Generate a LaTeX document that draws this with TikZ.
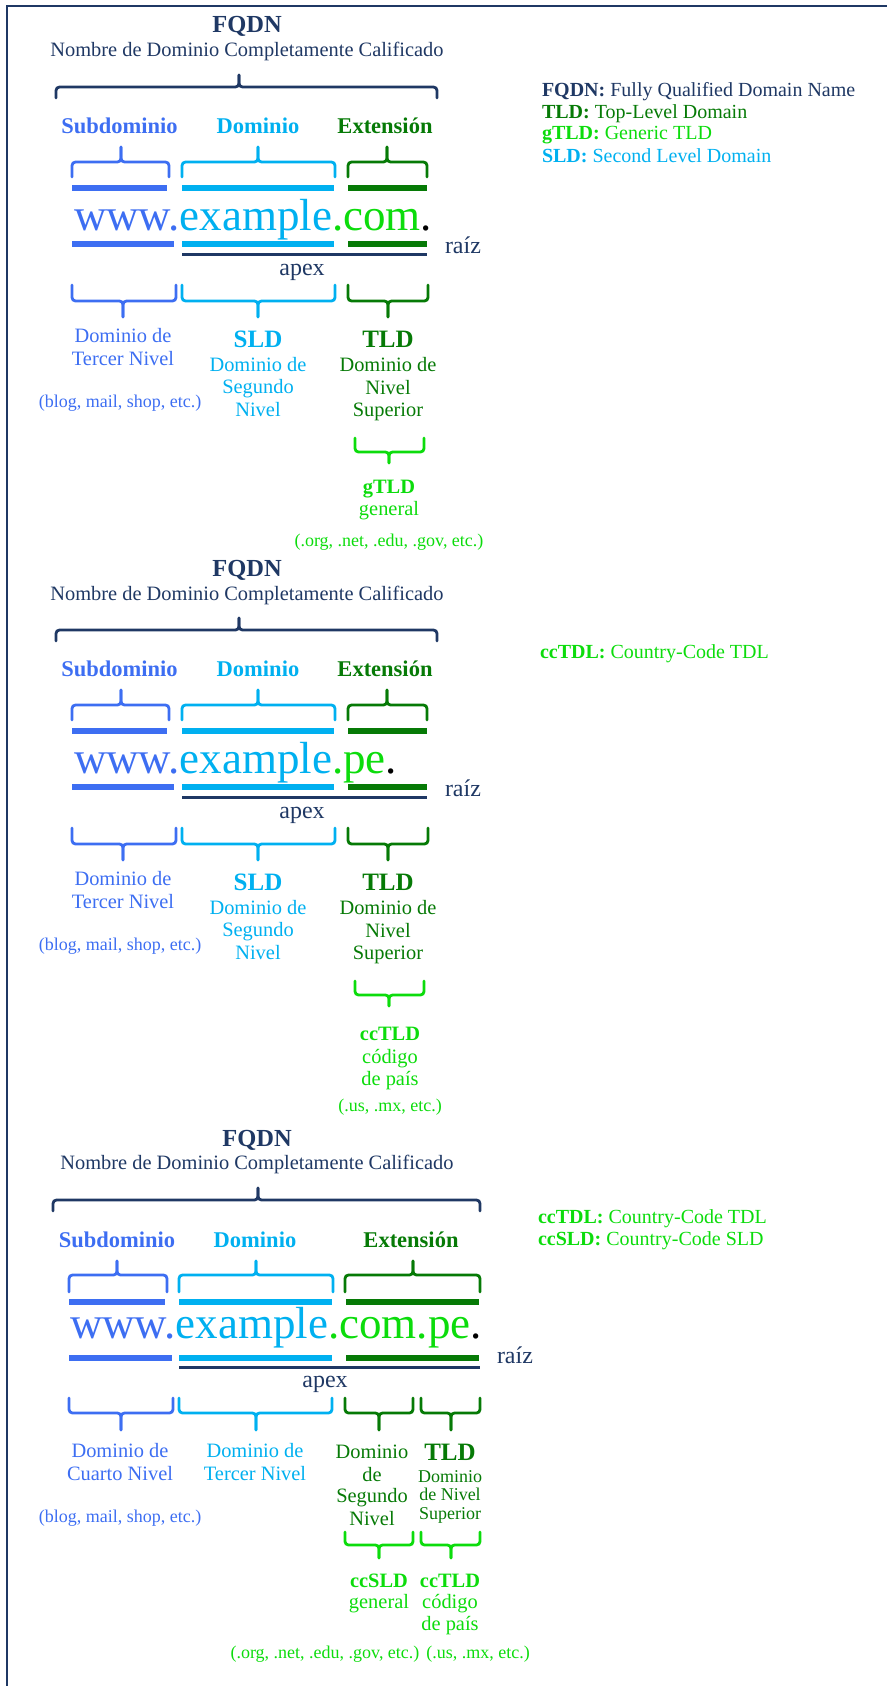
\documentclass[tikz,border=0pt]{standalone}
\usepackage{fontspec}
\setmainfont{Liberation Serif}
\definecolor{cNavy}{HTML}{1F3864}
\definecolor{cSub}{HTML}{3D6EF2}
\definecolor{cDom}{HTML}{00B0F0}
\definecolor{cExt}{HTML}{067A06}
\definecolor{cLime}{HTML}{0CDC0C}

% curly bracket: colour, left x, right x, tip x, end y, bar y, tip y
\newcommand\dbrk[7]{%
  \draw[brk,#1] (#2,#5) -- (#2,#6) -- (#4,#6) -- (#4,#7);
  \draw[brk,#1] (#3,#5) -- (#3,#6) -- (#4,#6) -- (#4,#7);}
% thick underline bar: colour, left x, right x, centre y
\newcommand\thickbar[4]{%
  \fill[#1] (#2,#4-3.3) rectangle (#3,#4+3.3);}

\tikzset{
  every node/.style={inner sep=0pt, outer sep=0pt},
  brk/.style={line width=2.8pt, rounded corners=3.5pt, line cap=round},
  apexline/.style={line width=3pt, cNavy},
  ttl/.style={anchor=base, text=cNavy, font=\bfseries\fontsize{24.5}{28}\selectfont},
  subttl/.style={anchor=base, text=cNavy, font=\fontsize{20.4}{24}\selectfont},
  hdr/.style={anchor=base, font=\bfseries\fontsize{22.5}{26}\selectfont},
  url/.style={anchor=base west, font=\fontsize{45}{50}\selectfont},
  lab/.style={anchor=base, font=\fontsize{20.4}{24}\selectfont},
  labbig/.style={anchor=base, font=\bfseries\fontsize{25}{28}\selectfont},
  labbf/.style={anchor=base, font=\bfseries\fontsize{20.4}{24}\selectfont},
  sml/.style={anchor=base, font=\fontsize{18}{20}\selectfont},
  leg/.style={anchor=base west, font=\fontsize{20}{22}\selectfont},
  marker/.style={text=cNavy, font=\fontsize{24}{28}\selectfont},
}

\begin{document}
\begin{tikzpicture}[x=1pt, y=-1pt]
\useasboundingbox (0,0) rectangle (887,1686);
% frame
\coordinate (fbl) at (7,1686);
\coordinate (ftl) at (7,6);
\coordinate (ftr) at (887,6);
\draw[cNavy, line width=2.6pt] (fbl) -- (ftl) -- (ftr);

%================ first example: www.example.com.
\node[ttl] (a-fqdn) at (247,33) {FQDN};
\node[subttl] (a-nombre) at (247,57) {Nombre de Dominio Completamente Calificado};
\dbrk{cNavy}{56}{437}{239}{98}{87}{75}
\node[hdr, text=cSub] (a-hsub) at (119.5,133) {Subdominio};
\node[hdr, text=cDom] (a-hdom) at (258,133) {Dominio};
\node[hdr, text=cExt] (a-hext) at (385,133) {Extensión};
\dbrk{cSub}{72}{169}{121}{177}{162}{147}
\dbrk{cDom}{182}{335}{258}{177}{162}{147}
\dbrk{cExt}{348}{427}{387}{177}{162}{147}
\thickbar{cSub}{72}{167}{188}
\thickbar{cDom}{182}{334}{188}
\thickbar{cExt}{348}{427}{188}
\node[url] (a-url) at (74,230) {\textcolor{cSub}{www.}\textcolor{cDom}{example}\textcolor{cLime}{.com}\textcolor{black}{.}};
\thickbar{cSub}{72}{174}{244}
\thickbar{cDom}{182}{334}{244}
\thickbar{cExt}{348}{427}{244}
\draw[apexline] (182,254) -- (427,254);
\node[marker, anchor=base west] (a-raiz) at (445,253) {raíz};
\node[marker, anchor=base] (a-apex) at (302,275) {apex};
\dbrk{cSub}{72}{176}{123}{285}{301}{317}
\dbrk{cDom}{182}{335}{258}{285}{301}{317}
\dbrk{cExt}{348}{428}{388}{285}{301}{317}
\node[lab, text=cSub] (a-l1a) at (123,342) {Dominio de};
\node[lab, text=cSub] (a-l1b) at (123,365) {Tercer Nivel};
\node[sml, text=cSub] (a-l1c) at (120,407) {(blog, mail, shop, etc.)};
\node[labbig, text=cDom] (a-l2a) at (258,347) {SLD};
\node[lab, text=cDom] (a-l2b) at (258,371) {Dominio de};
\node[lab, text=cDom] (a-l2c) at (258,393) {Segundo};
\node[lab, text=cDom] (a-l2d) at (258,416) {Nivel};
\node[labbig, text=cExt] (a-l3a) at (388,347) {TLD};
\node[lab, text=cExt] (a-l3b) at (388,371) {Dominio de};
\node[lab, text=cExt] (a-l3c) at (388,394) {Nivel};
\node[lab, text=cExt] (a-l3d) at (388,416) {Superior};
\dbrk{cLime}{355}{424}{389}{438}{452}{463}
\node[labbf, text=cLime] (a-g1) at (389,493) {gTLD};
\node[lab, text=cLime] (a-g2) at (389,515) {general};
\node[sml, text=cLime] (a-g3) at (389,546) {(.org, .net, .edu, .gov, etc.)};
% legend
\node[leg, text=cNavy] (a-k1) at (542,96) {\textbf{FQDN:} Fully Qualified Domain Name};
\node[leg, text=cExt] (a-k2) at (542,118) {\textbf{TLD:} Top-Level Domain};
\node[leg, text=cLime] (a-k3) at (542,139) {\textbf{gTLD:} Generic TLD};
\node[leg, text=cDom] (a-k4) at (542,162) {\textbf{SLD:} Second Level Domain};

%================ second example: www.example.pe.
\begin{scope}[yshift=-543pt]
\node[ttl] (b-fqdn) at (247,33) {FQDN};
\node[subttl] (b-nombre) at (247,57) {Nombre de Dominio Completamente Calificado};
\dbrk{cNavy}{56}{437}{239}{98}{87}{75}
\node[hdr, text=cSub] (b-hsub) at (119.5,133) {Subdominio};
\node[hdr, text=cDom] (b-hdom) at (258,133) {Dominio};
\node[hdr, text=cExt] (b-hext) at (385,133) {Extensión};
\dbrk{cSub}{72}{169}{121}{177}{162}{147}
\dbrk{cDom}{182}{335}{258}{177}{162}{147}
\dbrk{cExt}{348}{427}{387}{177}{162}{147}
\thickbar{cSub}{72}{167}{188}
\thickbar{cDom}{182}{334}{188}
\thickbar{cExt}{348}{427}{188}
\node[url] (b-url) at (74,230) {\textcolor{cSub}{www.}\textcolor{cDom}{example}\textcolor{cLime}{.pe}\textcolor{black}{.}};
\thickbar{cSub}{72}{174}{244}
\thickbar{cDom}{182}{334}{244}
\thickbar{cExt}{348}{427}{244}
\draw[apexline] (182,254) -- (427,254);
\node[marker, anchor=base west] (b-raiz) at (445,253) {raíz};
\node[marker, anchor=base] (b-apex) at (302,275) {apex};
\dbrk{cSub}{72}{176}{123}{285}{301}{317}
\dbrk{cDom}{182}{335}{258}{285}{301}{317}
\dbrk{cExt}{348}{428}{388}{285}{301}{317}
\node[lab, text=cSub] (b-l1a) at (123,342) {Dominio de};
\node[lab, text=cSub] (b-l1b) at (123,365) {Tercer Nivel};
\node[sml, text=cSub] (b-l1c) at (120,407) {(blog, mail, shop, etc.)};
\node[labbig, text=cDom] (b-l2a) at (258,347) {SLD};
\node[lab, text=cDom] (b-l2b) at (258,371) {Dominio de};
\node[lab, text=cDom] (b-l2c) at (258,393) {Segundo};
\node[lab, text=cDom] (b-l2d) at (258,416) {Nivel};
\node[labbig, text=cExt] (b-l3a) at (388,347) {TLD};
\node[lab, text=cExt] (b-l3b) at (388,371) {Dominio de};
\node[lab, text=cExt] (b-l3c) at (388,394) {Nivel};
\node[lab, text=cExt] (b-l3d) at (388,416) {Superior};
\dbrk{cLime}{355}{424}{389}{438}{452}{463}
\node[labbf, text=cLime] (b-g1) at (390,497) {ccTLD};
\node[lab, text=cLime] (b-g2) at (390,520) {código};
\node[lab, text=cLime] (b-g3) at (390,542) {de país};
\node[sml, text=cLime] (b-g4) at (390,568) {(.us, .mx, etc.)};
\node[leg, text=cLime] (b-k1) at (540,115) {\textbf{ccTDL:} Country-Code TDL};
\end{scope}

%================ third example: www.example.com.pe.
\node[ttl] (c-fqdn) at (257,1146) {FQDN};
\node[subttl] (c-nombre) at (257,1169) {Nombre de Dominio Completamente Calificado};
\dbrk{cNavy}{53}{480}{258}{1211}{1200}{1188}
\node[hdr, text=cSub] (c-hsub) at (117,1247) {Subdominio};
\node[hdr, text=cDom] (c-hdom) at (255,1247) {Dominio};
\node[hdr, text=cExt] (c-hext) at (411,1247) {Extensión};
\dbrk{cSub}{69}{167}{117}{1292}{1275}{1261}
\dbrk{cDom}{179}{333}{256}{1292}{1275}{1261}
\dbrk{cExt}{345}{480}{413}{1292}{1275}{1261}
\thickbar{cSub}{69}{165}{1302}
\thickbar{cDom}{179}{332}{1302}
\thickbar{cExt}{346}{479}{1302}
\node[url] (c-url) at (70,1338) {\textcolor{cSub}{www.}\textcolor{cDom}{example}\textcolor{cLime}{.com.pe}\textcolor{black}{.}};
\thickbar{cSub}{69}{172}{1358}
\thickbar{cDom}{179}{332}{1358}
\thickbar{cExt}{346}{479}{1358}
\draw[apexline] (179,1367) -- (480,1367);
\node[marker, anchor=base west] (c-raiz) at (497,1363) {raíz};
\node[marker, anchor=base] (c-apex) at (325,1387) {apex};
\dbrk{cSub}{69}{173}{121}{1398}{1413}{1430}
\dbrk{cDom}{179}{332}{256}{1398}{1413}{1430}
\dbrk{cExt}{345}{413}{379}{1398}{1413}{1430}
\dbrk{cExt}{421}{480}{451}{1398}{1413}{1430}
\node[lab, text=cSub] (c-l1a) at (120,1457) {Dominio de};
\node[lab, text=cSub] (c-l1b) at (120,1480) {Cuarto Nivel};
\node[sml, text=cSub] (c-l1c) at (120,1522) {(blog, mail, shop, etc.)};
\node[lab, text=cDom] (c-l2a) at (255,1457) {Dominio de};
\node[lab, text=cDom] (c-l2b) at (255,1480) {Tercer Nivel};
\node[lab, text=cExt] (c-l3a) at (372,1458) {Dominio};
\node[lab, text=cExt] (c-l3b) at (372,1481) {de};
\node[lab, text=cExt] (c-l3c) at (372,1502) {Segundo};
\node[lab, text=cExt] (c-l3d) at (372,1525) {Nivel};
\node[labbig, text=cExt] (c-l4a) at (450,1460) {TLD};
\node[sml, text=cExt] (c-l4b) at (450,1482) {Dominio};
\node[sml, text=cExt] (c-l4c) at (450,1500) {de Nivel};
\node[sml, text=cExt] (c-l4d) at (450,1519) {Superior};
\dbrk{cLime}{345}{413}{379}{1532}{1545}{1558}
\dbrk{cLime}{421}{480}{451}{1532}{1545}{1558}
\node[labbf, text=cLime] (c-s1) at (379,1587) {ccSLD};
\node[lab, text=cLime] (c-s2) at (379,1608) {general};
\node[labbf, text=cLime] (c-t1) at (450,1587) {ccTLD};
\node[lab, text=cLime] (c-t2) at (450,1608) {código};
\node[lab, text=cLime] (c-t3) at (450,1630) {de país};
\node[sml, text=cLime] (c-s3) at (325,1658) {(.org, .net, .edu, .gov, etc.)};
\node[sml, text=cLime] (c-t4) at (478,1658) {(.us, .mx, etc.)};
\node[leg, text=cLime] (c-k1) at (538,1223) {\textbf{ccTDL:} Country-Code TDL};
\node[leg, text=cLime] (c-k2) at (538,1245) {\textbf{ccSLD:} Country-Code SLD};
\end{tikzpicture}
\end{document}
